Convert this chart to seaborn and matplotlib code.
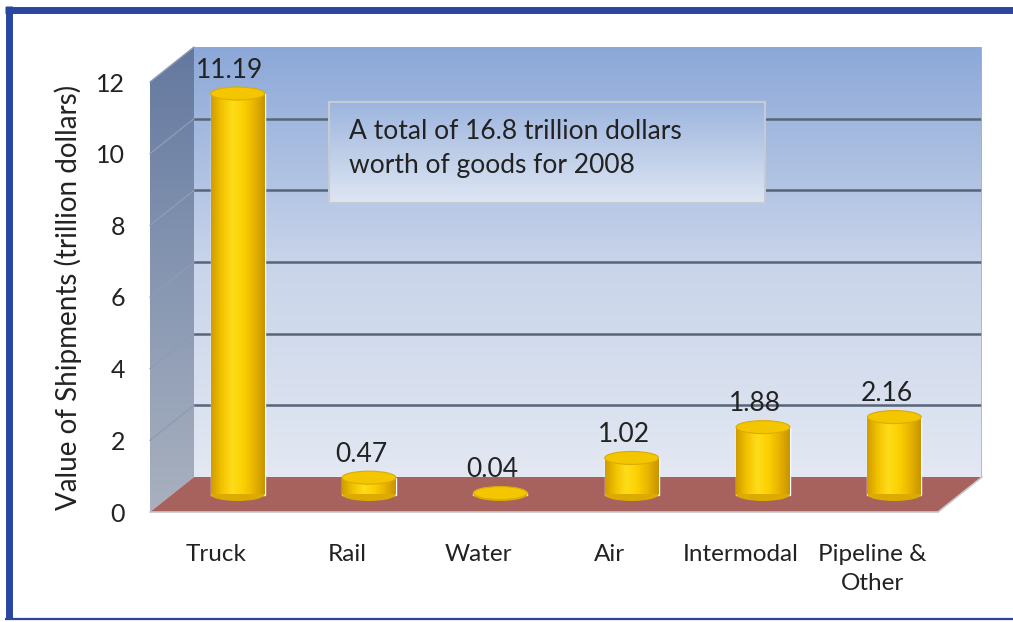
import numpy as np
import pandas as pd
import seaborn as sns
import matplotlib
matplotlib.use('Agg')
import matplotlib.pyplot as plt
from matplotlib.patches import Polygon, Ellipse
from matplotlib.colors import LinearSegmentedColormap
from matplotlib.lines import Line2D

# data
modes = ["Truck", "Rail", "Water", "Air", "Intermodal", "Pipeline &\nOther"]
values = [11.19, 0.47, 0.04, 1.02, 1.88, 2.16]
yticks = [0, 2, 4, 6, 8, 10, 12]
note = "A total of 16.8 trillion dollars\nworth of goods for 2008"
ylabel = "Value of Shipments (trillion dollars)"

W, H = 1013, 622
def fx(px): return px / W
def fy(py): return 1 - py / H

sns.set_style('white')
plt.rcParams['font.family'] = ['Lato', 'DejaVu Sans']
txt = '#222222'

fig = plt.figure(figsize=(W / 100, H / 100), dpi=100)

# front plane of the 3d box in pixels, depth offset
L, R, T, B = 150, 938, 82, 512
DX, DY = 44, 35

def plane(dx, dy):
    return [fx(L + dx), fy(B - dy), (R - L) / W, (B - T) / H]

# back wall
axb = fig.add_axes(plane(DX, DY), zorder=0)
wall = LinearSegmentedColormap.from_list('wall', ['#e3e8f2', '#c8d4ea', '#8ca8d8'])
axb.imshow(np.linspace(0, 1, 256).reshape(-1, 1), extent=[-0.5, 5.5, 0, 12],
           origin='lower', aspect='auto', cmap=wall)
for t in yticks[1:-1]:
    axb.axhline(t, color='#56657a', lw=1.8)
axb.axvline(5.5, color='#a9b3c2', lw=1.2)
axb.set_xlim(-0.5, 5.5)
axb.set_ylim(0, 12)
axb.axis('off')

# side wall
axs = fig.add_axes([fx(L), fy(B), DX / W, (B - T + DY) / H], zorder=0.5)
side = LinearSegmentedColormap.from_list('side', ['#a9b1bf', '#8797b2', '#64789f'])
hf = (B - T) / (B - T + DY)
clip = Polygon([(0, 0), (0, hf), (1, 1), (1, 1 - hf)], closed=True,
               transform=axs.transAxes, fc='none', ec='none')
axs.add_patch(clip)
im = axs.imshow(np.linspace(0, 1, 256).reshape(-1, 1), extent=[0, 1, 0, 1],
                origin='lower', aspect='auto', cmap=side)
im.set_clip_path(clip)
axs.set_xlim(0, 1)
axs.set_ylim(0, 1)
axs.axis('off')

# floor
floor = Polygon([(fx(L), fy(B)), (fx(R), fy(B)), (fx(R + DX), fy(B - DY)), (fx(L + DX), fy(B - DY))],
                closed=True, transform=fig.transFigure, fc='#a7625d', ec='none', zorder=1)
fig.add_artist(floor)
fig.add_artist(Line2D([fx(R), fx(R + DX)], [fy(B), fy(B - DY)], transform=fig.transFigure,
                      color='#c8c8c8', lw=1.2, zorder=1))
for t in yticks[1:]:
    yf = B - t * (B - T) / 12
    fig.add_artist(Line2D([fx(L), fx(L + DX)], [fy(yf), fy(yf - DY)], transform=fig.transFigure,
                          color='#8d9bb4', lw=1, zorder=1))

# bars (mid depth)
axm = fig.add_axes(plane(DX / 2, DY / 2), zorder=2)
axm.patch.set_alpha(0)
df = pd.DataFrame({'mode': modes, 'value': values})
sns.barplot(data=df, x='mode', y='value', ax=axm, color='#f5c400', width=0.41, saturation=1)
ell_h = 13 / ((B - T) / 12)
cyl = LinearSegmentedColormap.from_list('cyl', ['#d09c00', '#f2c300', '#ffdc1a', '#fbd000', '#e8b400', '#c69300'])
for p, v in zip(axm.patches, values):
    x0, w = p.get_x(), p.get_width()
    cx = x0 + w / 2
    p.set_clip_on(False)
    axm.add_patch(Ellipse((cx, 0), w, ell_h, fc='#dcaa00', ec='none', zorder=1.5, clip_on=False))
    img = axm.imshow(np.linspace(0, 1, 256).reshape(1, -1), extent=[x0, x0 + w, 0, v],
                     aspect='auto', cmap=cyl, zorder=2)
    img.set_clip_path(p)
    axm.add_patch(Ellipse((cx, v), w, ell_h, fc='#f3c600', ec='#dcab00', lw=0.8, zorder=3, clip_on=False))
    axm.text(cx - 0.06, v + 0.3, f'{v:.2f}', ha='center', va='bottom', fontsize=19, color=txt)
axm.set_xlim(-0.5, 5.5)
axm.set_ylim(0, 12)
axm.axis('off')

# front axes: ticks and labels
ax = fig.add_axes(plane(0, 0), zorder=3)
ax.patch.set_alpha(0)
ax.set_xlim(-0.5, 5.5)
ax.set_ylim(0, 12)
ax.set_yticks(yticks)
ax.set_xticks(range(len(modes)))
ax.set_xticklabels(modes, linespacing=1.45)
ax.set_xticks(np.arange(-0.5, len(modes), 1), minor=True)
ax.tick_params(axis='x', which='major', length=0, pad=23, labelsize=17.5, labelcolor=txt)
ax.tick_params(axis='x', which='minor', direction='in', length=7, color='#b5b5b5', width=1.2)
ax.tick_params(axis='y', direction='in', length=5, color='#b0b8c8', pad=18, labelsize=18, labelcolor=txt)
for s in ['left', 'top', 'right']:
    ax.spines[s].set_visible(False)
ax.spines['bottom'].set_color('#c8c8c8')
ax.spines['bottom'].set_linewidth(1.2)
ax.set_ylabel(ylabel, fontsize=20, color=txt)
ax.yaxis.set_label_coords(-(L - 82) / (R - L), 0.5)

# note box
axn = fig.add_axes([fx(329), fy(203), 436 / W, 101 / H], zorder=4)
boxc = LinearSegmentedColormap.from_list('box', ['#dee6f3', '#9db5de'])
axn.imshow(np.linspace(0, 1, 256).reshape(-1, 1), extent=[0, 1, 0, 1], origin='lower',
           aspect='auto', cmap=boxc)
axn.set_xticks([])
axn.set_yticks([])
for s in axn.spines.values():
    s.set_color('#c5cad3')
    s.set_linewidth(1.5)
axn.text(0.045, 0.54, note, transform=axn.transAxes, ha='left', va='center',
         fontsize=19, color=txt, linespacing=1.45)

# blue frame
blue = '#2a45a0'
for xs, ys, lw in [([5, W], [9.5, 9.5], 5), ([8.5, 8.5], [6, 619], 5), ([5, W], [618.5, 618.5], 1.6)]:
    fig.add_artist(Line2D([fx(x) for x in xs], [fy(y) for y in ys], transform=fig.transFigure,
                          color=blue, lw=lw, solid_capstyle='butt'))

fig.savefig('out.png', dpi=100)
